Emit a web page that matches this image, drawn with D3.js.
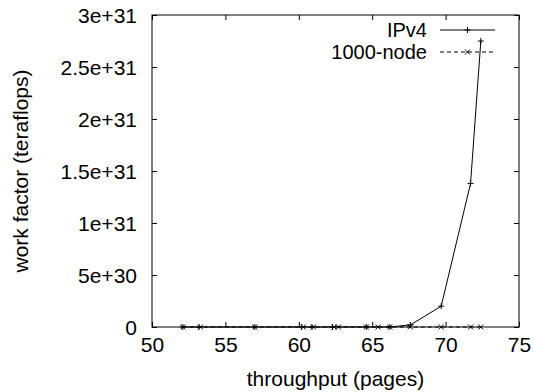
<!DOCTYPE html>
<html>
<head>
<meta charset="utf-8">
<script src="https://cdn.jsdelivr.net/npm/d3@7"></script>
<style>
  body { margin: 0; background: #fff; }
  text { font-family: "Liberation Sans", Arial, sans-serif; fill: #000; }
</style>
</head>
<body>
<div id="chart"></div>
<script>
/* work factor vs throughput, two series */

const ipv4X = [52.1, 53.2, 57.0, 60.2, 60.9, 62.3, 64.6, 66.2, 67.6, 69.7, 71.7, 72.4];
const ipv4Y = [0, 0, 0, 1e26, 2e26, 5e26, 1e27, 5e27, 2e29, 2.0e30, 1.38e31, 2.75e31];

const nodeX = [52.1, 53.3, 57.0, 60.3, 61.0, 62.4, 62.7, 64.6, 65.4, 66.2, 67.6, 69.7, 71.7, 72.4];
const nodeY = [0, 0, 0, 0, 0, 0, 0, 0, 0, 0, 0, 0, 0, 0];

const xTicks = [50, 55, 60, 65, 70, 75];
const yTicks = [0, 5e30, 1e31, 1.5e31, 2e31, 2.5e31, 3e31];
const yTickLabels = ["0", "5e+30", "1e+31", "1.5e+31", "2e+31", "2.5e+31", "3e+31"];

const series = [
    {name: "IPv4", xs: ipv4X, ys: ipv4Y, dash: null, marker: "plus"},
    {name: "1000-node", xs: nodeX, ys: nodeY, dash: "4,3", marker: "cross"}
];

const width = 534,
      height = 392,
      margin = ({top: 15, right: 15, bottom: 65, left: 152});

let svg = d3.select("#chart")
            .append("svg")
            .attr("width", width)
            .attr("height", height);

let x = d3.scaleLinear()
          .domain([50, 75])
          .range([margin.left, width - margin.right]);

let y = d3.scaleLinear()
          .domain([0, 3e31])
          .range([height - margin.bottom, margin.top]);

const fs = 21;
const tickLen = 5;

/* Ticks on all four sides, pointing in (gnuplot style) */
const xAxis = g => g
      .attr("transform", `translate(0, ${height - margin.bottom})`)
      .call(d3.axisBottom(x).tickValues(xTicks).tickSize(-tickLen).tickPadding(12).tickFormat(d3.format("d")));

const yAxis = g => g
      .attr("transform", `translate(${margin.left}, 0)`)
      .call(d3.axisLeft(y).tickValues(yTicks).tickSize(-tickLen).tickPadding(15)
            .tickFormat((d, i) => yTickLabels[i]));

const xTop = g => g
      .attr("transform", `translate(0, ${margin.top})`)
      .call(d3.axisTop(x).tickValues(xTicks).tickSize(-tickLen).tickFormat(""));

const yRight = g => g
      .attr("transform", `translate(${width - margin.right}, 0)`)
      .call(d3.axisRight(y).tickValues(yTicks).tickSize(-tickLen).tickFormat(""));

for (let ax of [xAxis, yAxis, xTop, yRight]) {
    let g = svg.append("g").call(ax);
    g.select(".domain").remove();
    g.selectAll("line").attr("stroke", "#000");
    g.selectAll("text").style("font-size", fs + "px").style("font-family", "'Liberation Sans', Arial, sans-serif");
}

svg.selectAll(".tick text").attr("dy", "0.36em");
svg.select("g").selectAll(".tick text").attr("dy", "0.6em");

/* frame */
svg.append("rect")
   .attr("x", margin.left)
   .attr("y", margin.top)
   .attr("width", width - margin.left - margin.right)
   .attr("height", height - margin.top - margin.bottom)
   .attr("fill", "none")
   .attr("stroke", "#000")
   .attr("stroke-width", 1);

/* axis titles */
svg.append("text")
   .attr("x", (margin.left + width - margin.right) / 2)
   .attr("y", 386)
   .attr("text-anchor", "middle")
   .style("font-size", fs + "px")
   .text("throughput (pages)");

svg.append("text")
   .attr("transform", `translate(28, ${(margin.top + height - margin.bottom) / 2}) rotate(-90)`)
   .attr("text-anchor", "middle")
   .style("font-size", fs + "px")
   .text("work factor (teraflops)");

function drawMarker(g, type, cx, cy) {
    const s = 3;
    if (type === "plus") {
        g.append("path").attr("d", `M${cx - s},${cy}H${cx + s}M${cx},${cy - s}V${cy + s}`);
    } else {
        const t = 2.5;
        g.append("path").attr("d", `M${cx - t},${cy - t}L${cx + t},${cy + t}M${cx - t},${cy + t}L${cx + t},${cy - t}`);
    }
}

const line = d3.line().x(d => x(d[0])).y(d => y(d[1]));

/* series lines + markers */
series.forEach(s => {
    let pts = s.xs.map((v, i) => [v, s.ys[i]]);
    let g = svg.append("g")
               .attr("fill", "none")
               .attr("stroke", "#000")
               .attr("stroke-width", 1);
    g.append("path")
     .attr("d", line(pts))
     .attr("stroke-dasharray", s.dash);
    pts.forEach(p => drawMarker(g, s.marker, x(p[0]), y(p[1])));
});

/* legend */
const legendY = [30, 52];
series.forEach((s, i) => {
    let ly = legendY[i];
    svg.append("text")
       .attr("x", 427)
       .attr("y", ly)
       .attr("dy", "0.36em")
       .attr("text-anchor", "end")
       .style("font-size", "20px")
       .text(s.name);
    let g = svg.append("g").attr("fill", "none").attr("stroke", "#000").attr("stroke-width", 1);
    g.append("line")
     .attr("x1", 440).attr("x2", 495)
     .attr("y1", ly).attr("y2", ly)
     .attr("stroke-dasharray", s.dash);
    drawMarker(g, s.marker, 467.5, ly);
});
</script>
</body>
</html>
